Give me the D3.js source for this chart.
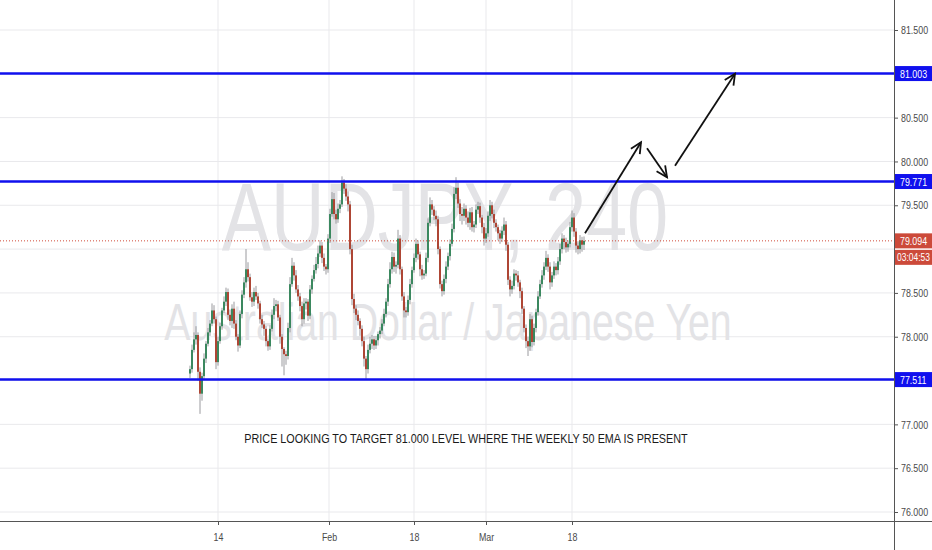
<!DOCTYPE html>
<html>
<head>
<meta charset="utf-8">
<script src="https://cdn.jsdelivr.net/npm/d3@7"></script>
<style>
    body { margin: 0; background: #fff; }
    svg { display: block; font-family: "Liberation Sans", Arial, sans-serif; }
</style>
</head>
<body>
<div id="chart"></div>
<script>
// AUDJPY 240 candles (close of each bar, open = previous close)
const firstOpen = 77.58;
const closes = [
    77.63,77.85,77.97,78.02,77.60,77.35,77.55,77.75,77.92,78.05,
    78.15,78.30,78.20,77.71,77.95,78.12,78.30,78.40,78.51,78.25,
    78.18,78.32,78.15,78.00,77.90,78.26,78.48,78.62,78.77,78.68,
    78.45,78.40,78.51,78.46,78.38,78.20,78.14,78.09,77.95,77.89,
    78.09,78.25,78.35,78.37,78.22,78.00,77.86,77.80,77.78,78.10,
    78.60,78.81,78.70,78.54,78.46,78.35,78.20,78.38,78.40,78.24,
    78.54,78.66,78.76,78.83,78.95,79.04,78.90,78.80,78.77,79.12,
    79.40,79.57,79.40,79.34,79.46,79.51,79.76,79.69,79.60,79.51,
    79.00,78.43,78.32,78.25,78.18,78.09,77.95,77.75,77.63,77.85,
    77.92,77.97,77.90,77.96,78.03,78.07,78.15,78.26,78.40,78.60,
    78.77,78.91,78.80,78.82,79.12,78.77,78.46,78.30,78.28,78.42,
    78.60,78.76,78.90,79.06,78.94,78.77,78.70,78.72,78.90,79.30,
    79.51,79.45,79.38,79.34,79.00,78.60,78.52,78.66,78.80,78.92,
    79.06,79.23,79.63,79.70,79.52,79.40,79.38,79.46,79.36,79.30,
    79.42,79.25,79.28,79.45,79.49,79.36,79.25,79.12,79.18,79.38,
    79.50,79.40,79.30,79.25,79.18,79.12,79.21,79.28,79.05,78.65,
    78.54,78.58,78.72,78.70,78.62,78.52,78.32,78.10,77.95,77.89,
    78.20,77.94,78.10,78.28,78.46,78.60,78.70,78.80,78.90,78.80,
    78.62,78.70,78.80,78.76,78.86,79.00,79.12,79.08,79.02,79.06,
    79.25,79.36,79.20,79.04,79.00,79.10,79.05,79.094
];
// upper / lower wick beyond the body, in hundredths of a yen
const wickUp = [
    4,6,8,10,3,5,4,6,3,5,4,8,6,3,5,4,3,6,5,4,
    6,5,8,4,3,4,5,6,23,8,4,6,5,7,4,3,5,4,3,2,
    4,6,9,5,4,3,3,2,4,6,8,9,4,6,5,4,5,6,4,3,
    5,4,6,8,9,6,4,5,3,5,6,8,7,5,6,5,7,4,5,6,
    4,5,6,4,5,3,4,5,3,6,8,5,4,5,3,4,5,6,4,6,
    8,6,5,4,10,4,3,5,4,5,6,4,5,6,4,3,5,4,6,5,
    8,5,4,6,4,3,4,5,6,4,5,6,8,12,6,5,8,6,4,7,
    5,6,4,6,5,4,3,5,6,5,6,4,5,4,3,4,5,8,4,3,
    4,6,5,4,5,3,4,3,4,5,6,4,5,4,6,5,6,5,8,4,
    5,4,6,4,5,6,6,4,5,4,6,8,5,4,5,6,4,5
];
const wickDn = [
    5,4,3,6,10,23,8,4,5,3,4,3,5,8,4,3,4,3,5,6,
    5,8,6,4,7,3,5,4,6,5,4,6,5,4,6,5,4,8,6,5,
    4,3,5,6,4,8,20,24,10,4,5,3,6,4,5,6,8,5,7,6,
    4,5,3,4,5,4,6,5,6,4,5,3,6,5,4,5,3,6,5,8,
    6,7,5,6,5,8,6,9,11,5,4,6,5,4,6,5,4,3,4,5,
    4,5,6,8,4,6,5,8,6,4,5,4,3,5,6,8,5,4,3,5,
    4,6,5,8,6,5,6,4,5,4,5,3,4,6,5,8,10,6,8,5,
    8,5,6,4,5,6,7,8,5,4,6,5,6,5,8,6,4,5,7,6,
    8,5,4,6,5,8,6,5,8,11,5,6,4,5,4,3,4,5,4,6,
    8,5,4,6,5,4,5,8,6,5,4,5,6,8,6,5,8,6
];

// bottom time axis (bar index of each label)
const dateTickIdx = [14, 69.5, 112, 148, 191];
const dateTickLabels = ["14", "Feb", "18", "Mar", "18"];
const priceGrid = [76, 76.5, 77, 77.5, 78, 78.5, 79, 79.5, 80, 80.5, 81, 81.5];
// labels hidden behind the level boxes are left out
const priceTickLabels = [76, 76.5, 77, 78, 78.5, 79.5, 80, 80.5, 81.5];

// drawn levels and annotations
const levels = [81.003, 79.771, 77.511];
const lastPrice = 79.094;
const countdown = "03:04:53";
const arrows = [
    [[197.5, 79.18], [225.5, 80.22]],
    [[228.5, 80.15], [238.5, 79.82]],
    [[242.5, 79.95], [272.5, 81.00]]
];
const note = "PRICE LOOKING TO TARGET 81.000 LEVEL WHERE THE WEEKLY 50 EMA IS PRESENT";

const width = 932, height = 550;
const plotRight = 894, plotBottom = 521;
const squeeze = 0.77;   // the screenshot's text is horizontally narrow

let svg = d3.select("#chart").append("svg")
    .attr("width", width)
    .attr("height", height);

let x = d3.scaleLinear().domain([0, closes.length - 1]).range([190, 584]);
let y = d3.scaleLinear().domain([76, 81.5]).range([512, 30]);

// narrow the text like the screenshot does (scale around x = 0, so move x out first)
function narrow(sel, k) {
    k = k || squeeze;
    sel.each(function () {
        let t = d3.select(this);
        let x0 = +t.attr("x") || 0;
        t.attr("x", x0 / k).attr("transform", "scale(" + k + ",1)");
    });
}

//grid
svg.append("g").selectAll("line").data(priceGrid).enter().append("line")
    .attr("x1", 0).attr("x2", plotRight)
    .attr("y1", d => y(d)).attr("y2", d => y(d))
    .attr("stroke", "#e9e9ec").attr("stroke-width", 1);
svg.append("g").selectAll("line").data(dateTickIdx).enter().append("line")
    .attr("x1", d => x(d)).attr("x2", d => x(d))
    .attr("y1", 0).attr("y2", plotBottom)
    .attr("stroke", "#e9e9ec").attr("stroke-width", 1);

//watermark
svg.append("text")
    .attr("x", 445).attr("y", 250)
    .attr("text-anchor", "middle")
    .attr("font-size", 96)
    .attr("fill", "#e3e3e6")
    .text("AUDJPY, 240")
    .call(narrow);
svg.append("text")
    .attr("x", 448).attr("y", 340)
    .attr("text-anchor", "middle")
    .attr("font-size", 51)
    .attr("fill", "#e3e3e6")
    .text("Australian Dollar / Japanese Yen")
    .call(narrow);

//candles
let bars = closes.map((c, i) => {
    let o = i == 0 ? firstOpen : closes[i - 1];
    return {
        i: i, o: o, c: c,
        h: Math.max(o, c) + wickUp[i] / 100,
        l: Math.min(o, c) - wickDn[i] / 100
    };
});
let candles = svg.append("g").selectAll("g").data(bars).enter().append("g");
candles.append("line")
    .attr("x1", d => x(d.i)).attr("x2", d => x(d.i))
    .attr("y1", d => y(d.h)).attr("y2", d => y(d.l))
    .attr("stroke", "#9a9a9e").attr("stroke-width", 1);
candles.append("rect")
    .attr("x", d => x(d.i) - 0.95)
    .attr("width", 1.9)
    .attr("y", d => y(Math.max(d.o, d.c)))
    .attr("height", d => Math.max(1, Math.abs(y(d.o) - y(d.c))))
    .attr("fill", d => d.c >= d.o ? "#34855a" : "#ad3f2e");

//horizontal levels
svg.append("g").selectAll("line").data(levels).enter().append("line")
    .attr("x1", 0).attr("x2", plotRight)
    .attr("y1", d => y(d)).attr("y2", d => y(d))
    .attr("stroke", "#1010ee").attr("stroke-width", 2.5);

// last price line
svg.append("line")
    .attr("x1", 0).attr("x2", plotRight)
    .attr("y1", y(lastPrice)).attr("y2", y(lastPrice))
    .attr("stroke", "#d04a38").attr("stroke-width", 1)
    .attr("stroke-dasharray", "1,2");

//arrows
let arrowGroup = svg.append("g").attr("stroke", "#111").attr("stroke-width", 1.8).attr("fill", "none");
arrows.forEach(a => {
    let x1 = x(a[0][0]), y1 = y(a[0][1]), x2 = x(a[1][0]), y2 = y(a[1][1]);
    let ang = Math.atan2(y2 - y1, x2 - x1);
    let len = 12, spread = 0.45;
    arrowGroup.append("line").attr("x1", x1).attr("y1", y1).attr("x2", x2).attr("y2", y2);
    arrowGroup.append("path")
        .attr("d", "M" + (x2 - len * Math.cos(ang - spread)) + "," + (y2 - len * Math.sin(ang - spread)) +
            "L" + x2 + "," + y2 +
            "L" + (x2 - len * Math.cos(ang + spread)) + "," + (y2 - len * Math.sin(ang + spread)));
});

//note text
svg.append("text")
    .attr("x", 466).attr("y", 443)
    .attr("text-anchor", "middle")
    .attr("font-size", 12.5)
    .attr("fill", "#1a1a1a")
    .text(note)
    .call(narrow, 0.865);

//right price axis
svg.append("rect").attr("x", plotRight).attr("y", 0).attr("width", width - plotRight).attr("height", height).attr("fill", "#fff");
let yAxis = svg.append("g")
    .attr("transform", "translate(" + plotRight + ",0)")
    .call(d3.axisRight(y).tickValues(priceTickLabels).tickFormat(d3.format(".3f")).tickSize(4).tickPadding(3));
yAxis.select(".domain").remove();
yAxis.selectAll("line").attr("stroke", "#555");
yAxis.selectAll("text").attr("fill", "#4a4a4a").attr("font-size", 11.5).attr("font-family", null);
yAxis.selectAll("text").call(narrow);

//bottom time axis
svg.append("rect").attr("x", 0).attr("y", plotBottom).attr("width", plotRight).attr("height", height - plotBottom).attr("fill", "#fff");
let xAxis = svg.append("g")
    .attr("transform", "translate(0," + plotBottom + ")")
    .call(d3.axisBottom(x).tickValues(dateTickIdx).tickFormat((d, i) => dateTickLabels[i]).tickSize(4).tickPadding(8));
xAxis.select(".domain").remove();
xAxis.selectAll("line").attr("stroke", "#555");
xAxis.selectAll("text").attr("fill", "#4a4a4a").attr("font-size", 11.5).attr("font-family", null);
xAxis.selectAll("text").call(narrow);

svg.append("line").attr("x1", plotRight + 0.5).attr("x2", plotRight + 0.5).attr("y1", 0).attr("y2", height)
    .attr("stroke", "#555").attr("stroke-width", 1);
svg.append("line").attr("x1", 0).attr("x2", width).attr("y1", plotBottom + 0.5).attr("y2", plotBottom + 0.5)
    .attr("stroke", "#555").attr("stroke-width", 1.2);

// price labels on the axis
function priceLabel(value, text, fill) {
    let g = svg.append("g");
    g.append("rect")
        .attr("x", plotRight + 1).attr("y", y(value) - 7.5)
        .attr("width", width - plotRight - 1).attr("height", 15)
        .attr("fill", fill);
    g.append("text")
        .attr("x", plotRight + 6).attr("y", y(value) + 4)
        .attr("font-size", 11.5).attr("fill", "#fff")
        .text(text)
        .call(narrow);
    return g;
}
levels.forEach(v => priceLabel(v, d3.format(".3f")(v), "#1010ee"));
priceLabel(lastPrice, d3.format(".3f")(lastPrice), "#cc4a3a");
let cd = svg.append("g");
cd.append("rect")
    .attr("x", plotRight + 1).attr("y", y(lastPrice) + 9)
    .attr("width", width - plotRight - 1).attr("height", 15)
    .attr("fill", "#cc4a3a");
cd.append("text")
    .attr("x", plotRight + 3).attr("y", y(lastPrice) + 20.5)
    .attr("font-size", 11).attr("fill", "#fff")
    .text(countdown)
    .call(narrow);
</script>
</body>
</html>
